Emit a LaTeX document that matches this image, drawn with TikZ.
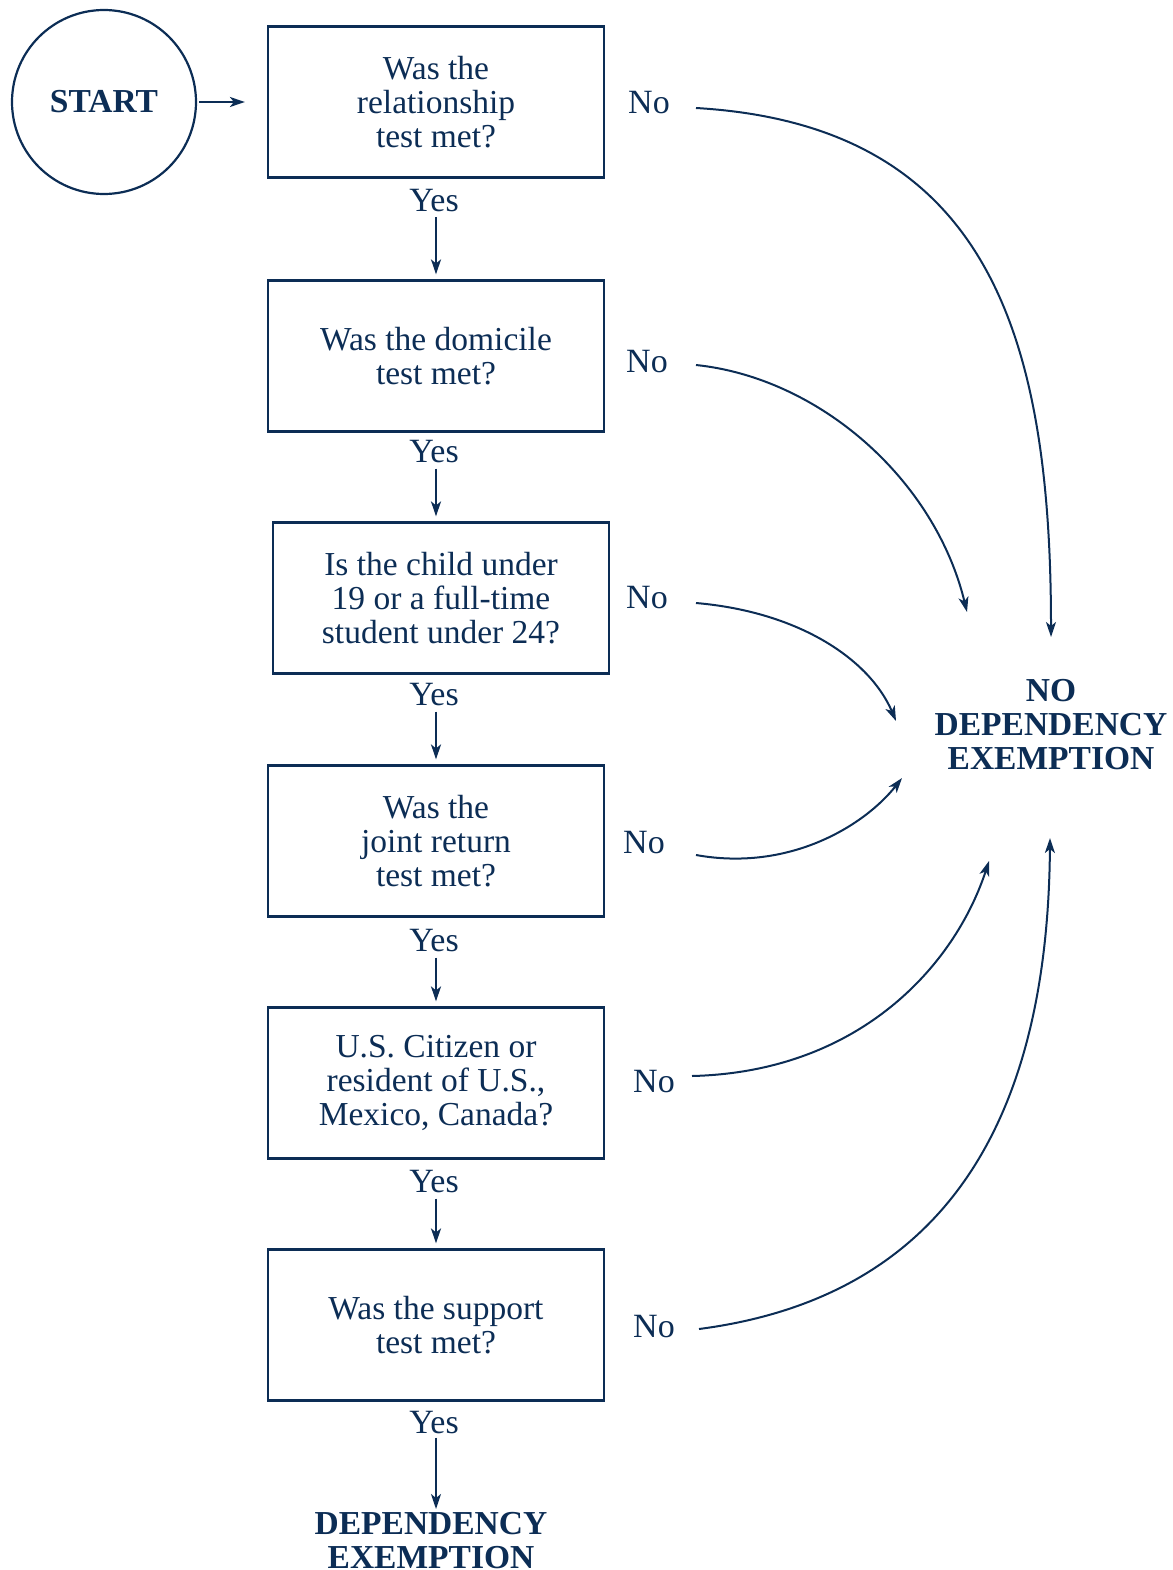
\documentclass[tikz,border=0pt]{standalone}
\usepackage{fontspec}
\setmainfont{Liberation Serif}
\usetikzlibrary{arrows.meta}
\definecolor{navy}{RGB}{12,45,85}
\begin{document}
\begin{tikzpicture}[x=1pt,y=-1pt,
  every node/.style={text=navy, inner sep=0pt},
  txt/.style={font=\fontsize{33.5}{34}\selectfont, align=center},
  lbl/.style={font=\fontsize{34}{34}\selectfont},
  bold/.style={font=\fontsize{33.5}{34}\selectfont\bfseries, align=center},
  qbox/.style={draw=navy, line width=2.2pt, minimum width=336pt, minimum height=151pt, txt},
  flow/.style={draw=navy, line width=2pt, -{Stealth[length=15pt,width=10pt,inset=4pt]}},
]
\useasboundingbox (0,0) rectangle (1172,1570);

% start and the six test boxes
\node[draw=navy, line width=2.2pt, circle, minimum size=184pt, bold] (start) at (104,102) {START};
\node[qbox] (q1) at (436,102) {Was the\\relationship\\test met?};
\node[qbox] (q2) at (436,356) {Was the domicile\\test met?};
\node[qbox] (q3) at (441,598) {Is the child under\\19 or a full-time\\student under 24?};
\node[qbox] (q4) at (436,841) {Was the\\joint return\\test met?};
\node[qbox] (q5) at (436,1083) {U.S. Citizen or\\resident of U.S.,\\Mexico, Canada?};
\node[qbox] (q6) at (436,1325) {Was the support\\test met?};

% outcomes
\node[bold] (nodep) at (1051,725) {NO\\DEPENDENCY\\EXEMPTION};
\node[bold, anchor=north] (dep) at (431,1512) {DEPENDENCY\\EXEMPTION};

% yes labels
\node[lbl] (y1) at (434,201) {Yes};
\node[lbl] (y2) at (434,452) {Yes};
\node[lbl] (y3) at (434,695) {Yes};
\node[lbl] (y4) at (434,941) {Yes};
\node[lbl] (y5) at (434,1182) {Yes};
\node[lbl] (y6) at (434,1423) {Yes};

% no labels
\node[lbl] (n1) at (649,103) {No};
\node[lbl] (n2) at (647,362) {No};
\node[lbl] (n3) at (647,598) {No};
\node[lbl] (n4) at (644,843) {No};
\node[lbl] (n5) at (654,1082) {No};
\node[lbl] (n6) at (654,1327) {No};

% arrow from start
\draw[flow, shorten <=2pt, shorten >=22pt] (start.east) -- (q1.west);

% yes arrows
\draw[flow, shorten <=5pt, shorten >=5pt] (y1.south -| q1.south) -- (q2.north);
\draw[flow, shorten <=5pt, shorten >=5pt] (y2.south -| q2.south) -- (q2.south |- q3.north);
\draw[flow, shorten <=5pt, shorten >=5pt] (y3.south -| q2.south) -- (q4.north);
\draw[flow, shorten <=5pt, shorten >=5pt] (y4.south -| q4.south) -- (q5.north);
\draw[flow, shorten <=5pt, shorten >=5pt] (y5.south -| q5.south) -- (q6.north);
\draw[flow, shorten <=3pt, shorten >=3pt] (y6.south -| q6.south) -- (q6.south |- dep.north);

% curved "no" branches
\coordinate (s1) at (696,108);  \coordinate (e1) at (1051,637);
\coordinate (s2) at (696,365);  \coordinate (e2) at (967,612);
\coordinate (s3) at (696,603);  \coordinate (e3) at (896,721);
\coordinate (s4) at (696,855);  \coordinate (e4) at (902,778);
\coordinate (s5) at (692,1076); \coordinate (e5) at (989,861);
\coordinate (s6) at (699,1329); \coordinate (e6) at (1050,838);

\draw[flow] (s1) .. controls (985,125) and (1051,330) .. (e1);
\draw[flow] (s2) .. controls (820,378) and (935,480) .. (e2);
\draw[flow] (s3) .. controls (800,612) and (870,660) .. (e3);
\draw[flow] (s4) .. controls (790,872) and (865,825) .. (e4);
\draw[flow] (s5) .. controls (860,1072) and (955,965) .. (e5);
\draw[flow] (s6) .. controls (960,1295) and (1048,1100) .. (e6);
\end{tikzpicture}
\end{document}
